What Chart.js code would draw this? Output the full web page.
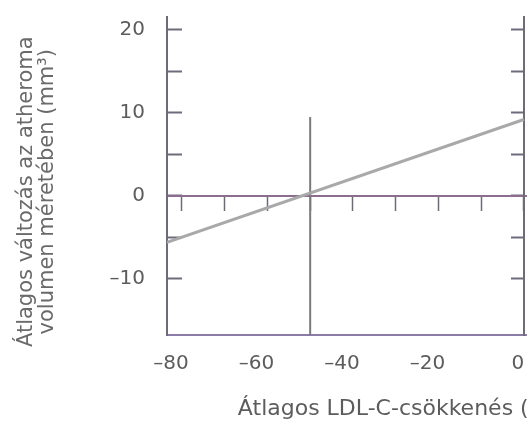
<!DOCTYPE html>
<html>
<head>
<meta charset="utf-8">
<script src="https://cdn.jsdelivr.net/npm/chart.js@4.4.1/dist/chart.umd.min.js"></script>
<style>
  html, body { margin: 0; padding: 0; overflow: hidden; background: #fff; }
  #wrap { width: 632px; height: 425px; }
</style>
</head>
<body>
<div id="wrap"><canvas id="chart" width="632" height="425"></canvas></div>
<script>
// regression line (mean LDL-C change vs. atheroma volume change)
var fitX = [-83.5, 0];
var fitY = [-5.6, 9.2];
// vertical marker line
var markX = [-50, -50];
var markY = [-16.75, 9.5];

var xMin = -83.5, xMax = 24.6;
var yMin = -16.75, yMax = 21.55;

var xTitle = 'Átlagos LDL-C-csökkenés (%)';
var yTitle = ['Átlagos változás az atheroma', 'volumen méretében (mm³)'];

var axisColor = '#6f6a7a';
var zeroColor = '#8c6d90';
var textColor = '#5c5c5c';
var fontFamily = '"DejaVu Sans", sans-serif';
var pad = '\u2002\u2002\u2002';

function toPoints(xs, ys) {
  return xs.map(function(x, i) { return {x: x, y: ys[i]}; });
}
function dash(v) {
  return v < 0 ? '\u2013' + Math.abs(v) : String(v);
}
function hideLow(ctx) {
  // no tick marks below -10 in the original
  return ctx.tick && ctx.tick.value < -12 ? 'rgba(0,0,0,0)' : axisColor;
}
function noPad(s) {
  s.paddingTop = 0; s.paddingBottom = 0;
  s.paddingLeft = 0; s.paddingRight = 0;
}

var ctx = document.getElementById('chart').getContext('2d');
new Chart(ctx, {
  type: 'scatter',
  data: {
    datasets: [
      {
        data: toPoints(fitX, fitY),
        showLine: true,
        borderColor: '#a9a9a9',
        borderWidth: 3,
        pointRadius: 0
      },
      {
        data: toPoints(markX, markY),
        showLine: true,
        borderColor: '#7a7a7a',
        borderWidth: 2,
        pointRadius: 0
      }
    ]
  },
  options: {
    responsive: false,
    animation: false,
    layout: { padding: { top: 17, right: 3, left: 0, bottom: 0 } },
    plugins: { legend: { display: false }, tooltip: { enabled: false } },
    scales: {
      x: {
        type: 'linear',
        position: 'bottom',
        min: xMin, max: xMax,
        afterFit: function(s) { s.height = 90; noPad(s); },
        border: { color: '#8a7ca6', width: 2 },
        grid: { drawOnChartArea: false, drawTicks: false },
        ticks: {
          stepSize: 20,
          includeBounds: false,
          padding: 17,
          labelOffset: -6,
          color: textColor,
          font: { family: fontFamily, size: 20 },
          callback: function(v) { return v < 0 ? dash(v) + '\u2002' : dash(v); }
        },
        title: {
          display: true,
          text: xTitle,
          color: textColor,
          padding: { top: 0, bottom: 3 },
          font: { family: fontFamily, size: 22 }
        }
      },
      x0: {
        type: 'linear',
        axis: 'x',
        position: { y: 0 },
        min: xMin, max: xMax,
        afterFit: noPad,
        border: { color: zeroColor, width: 2 },
        grid: { drawOnChartArea: false, tickLength: 14, tickColor: axisColor, tickWidth: 1.5 },
        ticks: { stepSize: 10, includeBounds: false, display: false }
      },
      y: {
        type: 'linear',
        position: 'left',
        min: yMin, max: yMax,
        afterFit: function(s) { s.width = 167; noPad(s); },
        border: { color: axisColor, width: 2 },
        grid: { drawOnChartArea: false, tickLength: -15, tickColor: hideLow, tickWidth: 2 },
        ticks: {
          stepSize: 5,
          includeBounds: false,
          padding: 37,
          color: textColor,
          font: { family: fontFamily, size: 20 },
          callback: function(v) { return v % 10 === 0 ? dash(v) : ''; }
        },
        title: {
          display: true,
          text: yTitle.map(function(t) { return t + pad; }),
          color: '#6a6a6a',
          padding: { top: 16, bottom: 0 },
          font: { family: fontFamily, size: 21, lineHeight: 1.0 }
        }
      },
      yr: {
        type: 'linear',
        axis: 'y',
        position: { x: 0 },
        min: yMin, max: yMax,
        afterFit: noPad,
        border: { color: axisColor, width: 2 },
        grid: { drawOnChartArea: false, tickLength: 12, tickColor: hideLow, tickWidth: 2 },
        ticks: { stepSize: 5, includeBounds: false, display: false }
      }
    }
  }
});
</script>
</body>
</html>
